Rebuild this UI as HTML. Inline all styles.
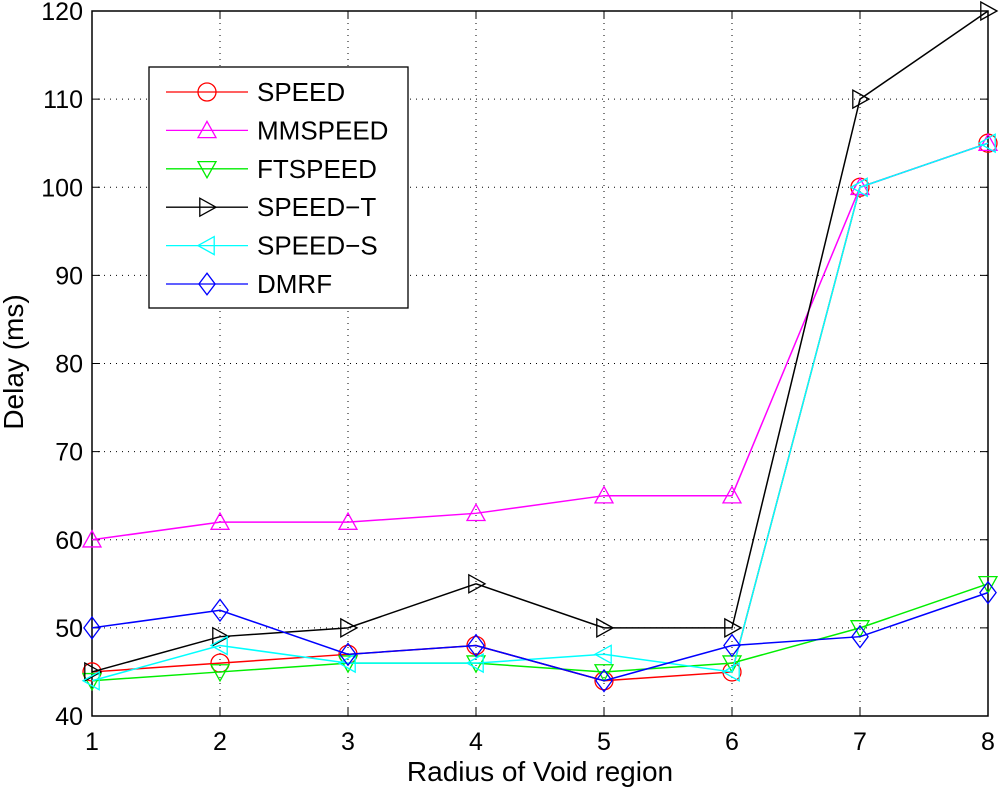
<!DOCTYPE html>
<html><head><meta charset="utf-8"><style>
body{margin:0;background:#fff;}
svg{display:block;font-family:"Liberation Sans",sans-serif;}
</style></head><body>
<svg id="chart" width="1000" height="788" viewBox="0 0 1000 788" xmlns="http://www.w3.org/2000/svg"></svg>
<script>
const xCats=[1,2,3,4,5,6,7,8];
const yTicks=[40,50,60,70,80,90,100,110,120];
const speed=[45,46,47,48,44,45,100,105];
const mmspeed=[60,62,62,63,65,65,100,105];
const ftspeed=[44,45,46,46,45,46,50,55];
const speedT=[45,49,50,55,50,50,110,120];
const speedS=[44,48,46,46,47,45,100,105];
const dmrf=[50,52,47,48,44,48,49,54];
const seriesNames=["SPEED","MMSPEED","FTSPEED","SPEED−T","SPEED−S","DMRF"];

const L=92,R=988,T=11,B=716;
const sx=x=>L+(x-1)*(R-L)/7;
const sy=v=>B-(v-40)*(B-T)/80;
const svg=document.getElementById('chart');
const NS='http://www.w3.org/2000/svg';
function mk(tag,attrs,parent){const e=document.createElementNS(NS,tag);for(const k in attrs)e.setAttribute(k,attrs[k]);(parent||svg).appendChild(e);return e;}

const grid=mk('g',{});


xCats.forEach(x=>{if(x>1&&x<8)mk('line',{x1:sx(x),x2:sx(x),y1:T,y2:B,stroke:'#000','stroke-width':1,'stroke-dasharray':'1 5'},grid);});
yTicks.forEach(v=>{if(v>40&&v<120)mk('line',{x1:L,x2:R,y1:sy(v),y2:sy(v),stroke:'#000','stroke-width':1,'stroke-dasharray':'1 5'},grid);});
const box=mk('rect',{x:L,y:T,width:R-L,height:B-T,fill:'none',stroke:'#000','stroke-width':1.5});


xCats.forEach(x=>{
  mk('line',{x1:sx(x),x2:sx(x),y1:B,y2:B-8,stroke:'#000'});
  mk('line',{x1:sx(x),x2:sx(x),y1:T,y2:T+8,stroke:'#000'});
  const t=mk('text',{x:sx(x),y:750,'text-anchor':'middle','font-size':25});
  t.textContent=x;
  
  
});
yTicks.forEach(v=>{
  mk('line',{x1:L,x2:L+8,y1:sy(v),y2:sy(v),stroke:'#000'});
  mk('line',{x1:R,x2:R-8,y1:sy(v),y2:sy(v),stroke:'#000'});
  const t=mk('text',{x:L-9,y:sy(v)+9,'text-anchor':'end','font-size':25});
  t.textContent=v;
  
  
});
const xt=mk('text',{x:540,y:781,'text-anchor':'middle','font-size':28});
xt.textContent='Radius of Void region';


const yt=mk('text',{x:0,y:0,'text-anchor':'middle','font-size':28,transform:'translate(23,362) rotate(-90)'});
yt.textContent='Delay (ms)';



function marker(type,x,y,color,p){
  const s=9;let d;
  if(type==='o')return mk('circle',{cx:x,cy:y,r:s,fill:'none',stroke:color,'stroke-width':1.3},p);
  if(type==='^')d=`M${x},${y-s}L${x+s},${y+s*0.8}L${x-s},${y+s*0.8}Z`;
  if(type==='v')d=`M${x},${y+s}L${x+s},${y-s*0.8}L${x-s},${y-s*0.8}Z`;
  if(type==='>')d=`M${x+s},${y}L${x-s*0.8},${y-s}L${x-s*0.8},${y+s}Z`;
  if(type==='<')d=`M${x-s},${y}L${x+s*0.8},${y-s}L${x+s*0.8},${y+s}Z`;
  if(type==='d')d=`M${x},${y-s*1.2}L${x+s*0.9},${y}L${x},${y+s*1.2}L${x-s*0.9},${y}Z`;
  return mk('path',{d,fill:'none',stroke:color,'stroke-width':1.3},p);
}
const allSeries=[speed,mmspeed,ftspeed,speedT,speedS,dmrf];
const colors=['#ff0000','#ff00ff','#00ee00','#000000','#00ffff','#0000ff'];
const marks=['o','^','v','>','<','d'];
const slugs=['speed','mmspeed','ftspeed','speed-t','speed-s','dmrf'];
allSeries.forEach((vals,i)=>{
  const g=mk('g',{});
  
  
  mk('polyline',{points:vals.map((v,j)=>sx(xCats[j])+','+sy(v)).join(' '),fill:'none',stroke:colors[i],'stroke-width':1.5},g);
  vals.forEach((v,j)=>{
    const m=marker(marks[i],sx(xCats[j]),sy(v),colors[i],g);
    
    
  });
});
const lg=mk('g',{});


mk('rect',{x:149,y:67,width:259,height:241,fill:'#fff',stroke:'#000','stroke-width':1.3},lg);
seriesNames.forEach((n,i)=>{
  const y=92+i*38.4;
  const e=mk('g',{},lg);
  
  
  mk('line',{x1:166,x2:248,y1:y,y2:y,stroke:colors[i],'stroke-width':1.3},e);
  marker(marks[i],207,y,colors[i],e);
  const t=mk('text',{x:257,y:y+9,'font-size':26},e);
  t.textContent=n;
});
</script>
</body></html>
